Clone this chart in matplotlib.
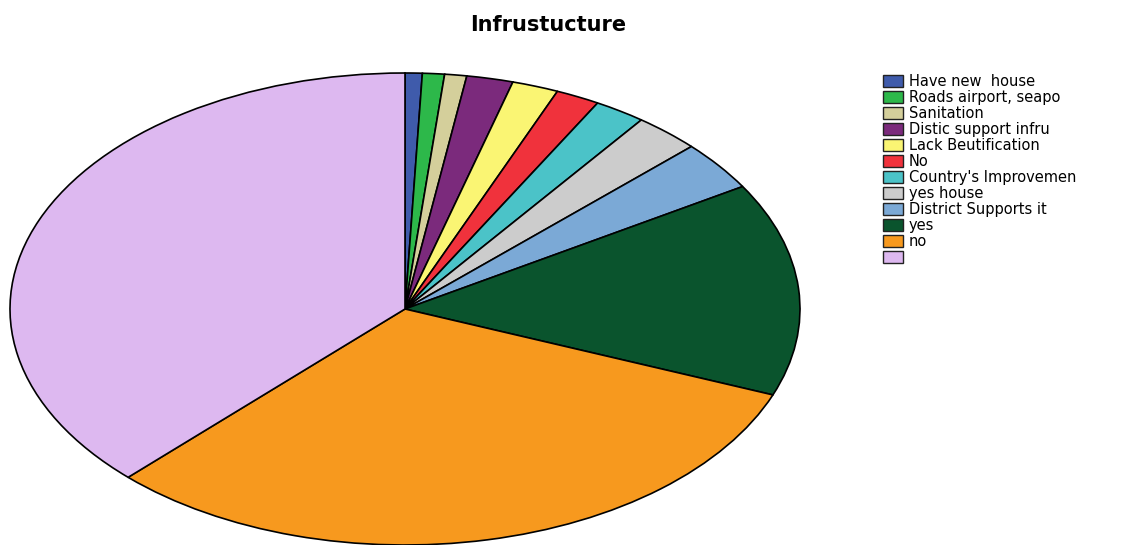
import matplotlib.pyplot as plt
from matplotlib.patches import Patch

# данные диаграммы (доли, %)
labels = ['Have new  house', 'Roads airport, seapo', 'Sanitation', 'Distic support infru',
          'Lack Beutification', 'No', "Country's Improvemen", 'yes house',
          'District Supports it', 'yes', 'no', '']
values = [0.7, 0.9, 0.9, 1.9, 1.9, 1.8, 2.1, 2.7, 3.4, 14.6, 31.4, 37.6]
colors = ['#3F5BAB', '#2DB84A', '#D4CF9B', '#7B2A7C', '#FAF573', '#F0323C',
          '#4BC3C8', '#CCCCCC', '#7BA9D6', '#0A542D', '#F7991E', '#DDB8F0']

fig = plt.figure(figsize=(11.26, 5.45), dpi=100)
ax = fig.add_axes([10 / 1126, 0.0, 790 / 1126, (545 - 73) / 545])
ax.pie(values, colors=colors, startangle=90, counterclock=False, radius=1,
       wedgeprops={'edgecolor': 'black', 'linewidth': 1.2})
ax.set_aspect('auto')
ax.set_xlim(-1, 1)
ax.set_ylim(-1, 1)
ax.axis('off')

fig.text(548 / 1126, 1 - 25 / 545, 'Infrustucture', ha='center', va='center',
         fontsize=15, fontweight='bold', family='DejaVu Sans')

handles = [Patch(facecolor=c, edgecolor='#222222', linewidth=1.0) for c in colors]
fig.legend(handles, labels, loc='upper left', bbox_to_anchor=(883 / 1126, 1 - 74 / 545),
           frameon=False, prop={'family': 'DejaVu Sans', 'size': 10.5},
           handlelength=1.37, handleheight=0.82, labelspacing=0.07,
           handletextpad=0.4, borderpad=0, borderaxespad=0)

fig.savefig('out.png', dpi=100)
